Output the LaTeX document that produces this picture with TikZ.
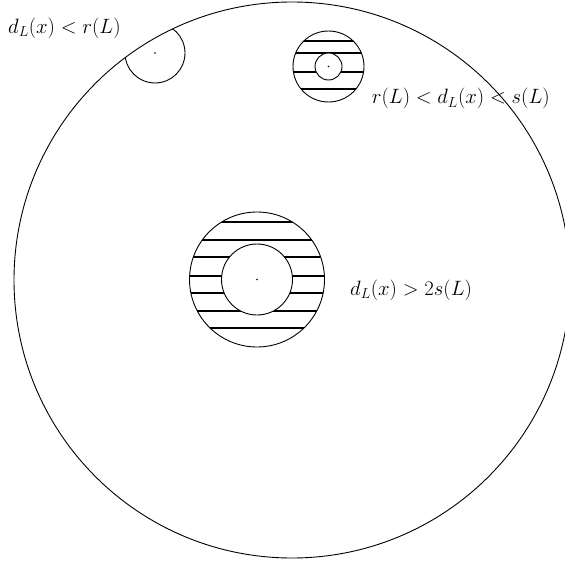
\documentclass[tikz,border=0pt]{standalone}
\begin{document}
\begin{tikzpicture}[x=1pt,y=-1pt,
  thinline/.style={line width=0.9pt,black},
  hatch/.style={line width=2.3pt,black},
  lbl/.style={anchor=west,inner sep=0pt,font=\fontsize{20.5}{24}\selectfont}]
\useasboundingbox (0,0) rectangle (565,562);
\coordinate (O) at (292,280);
\coordinate (A) at (155,53);
\coordinate (B) at (328.5,66.5);
\coordinate (C) at (257,279.5);
% big circle
\draw[thinline] (O) circle (278);
% small arc inside big circle
\begin{scope}
  \clip (O) circle (278);
  \draw[thinline] (A) circle (30);
\end{scope}
\fill (A) circle (0.9);
% top-right hatched ring
\begin{scope}
  \clip (B) circle (35.5);
  \foreach \y in {40.7,53.3,71.7,89} \draw[hatch] (285,\y) -- (372,\y);
\end{scope}
\fill[white] (B) circle (13.5);
\draw[thinline] (B) circle (35.5) (B) circle (13.5);
\fill (B) circle (0.9);
% central hatched ring
\begin{scope}
  \clip (C) circle (67.5);
  \foreach \y in {221.7,240,257.3,275.7,292.7,310.7,328.3} \draw[hatch] (185,\y) -- (330,\y);
\end{scope}
\fill[white] (C) circle (35.5);
\draw[thinline] (C) circle (67.5) (C) circle (35.5);
\fill (C) circle (0.9);
% labels
\node[lbl] (l1) at (8,28) {$d_L(x) < r(L)$};
\node[lbl] (l2) at (371.7,98.8) {$r(L) < d_L(x) < s(L)$};
\node[lbl] (l3) at (350,290) {$d_L(x) > 2s(L)$};
\end{tikzpicture}
\end{document}
